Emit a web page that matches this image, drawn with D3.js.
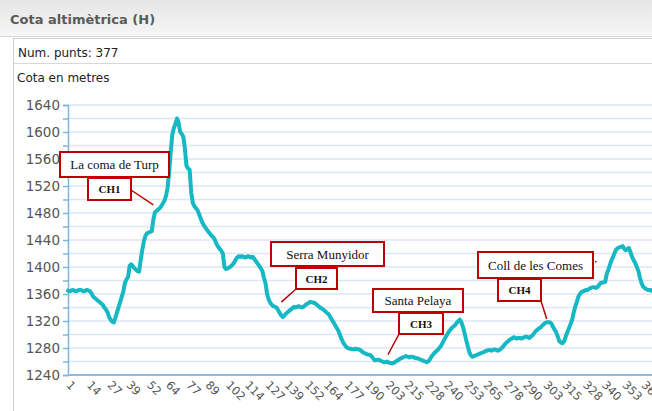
<!DOCTYPE html>
<html>
<head>
<meta charset="utf-8">
<script src="https://cdn.jsdelivr.net/npm/d3@7"></script>
<style>
  html, body { margin: 0; padding: 0; background: #ffffff; }
  svg { display: block; }
</style>
</head>
<body>
<script>
// ---- data ----
const title = "Cota altimètrica (H)";
const pointsLabel = "Num. punts: 377";
const axisTitle = "Cota en metres";

const elevation = [
  1365,1364,1365,1366,1365,1364,1365,1366,1366,1365,
  1364,1365,1366,1365,1364,1360,1356,1354,1352,1350,
  1348,1346,1344,1340,1337,1333,1326,1322,1319,1318,
  1325,1333,1340,1348,1356,1363,1376,1382,1385,1402,
  1404,1401,1398,1396,1394,1393,1410,1425,1438,1446,
  1450,1451,1452,1453,1470,1481,1483,1485,1487,1490,
  1494,1498,1505,1517,1540,1570,1596,1606,1612,1620,
  1614,1600,1597,1593,1575,1550,1546,1544,1510,1495,
  1490,1487,1484,1478,1472,1466,1462,1458,1455,1452,
  1449,1446,1444,1440,1434,1430,1427,1424,1420,1400,
  1397,1398,1399,1401,1403,1406,1410,1414,1416,1415,
  1416,1415,1414,1415,1416,1415,1414,1415,1412,1408,
  1405,1402,1398,1394,1384,1376,1360,1352,1347,1344,
  1342,1341,1340,1336,1332,1328,1326,1328,1331,1333,
  1335,1337,1339,1341,1340,1341,1342,1341,1340,1341,
  1343,1345,1346,1348,1348,1347,1347,1345,1343,1341,
  1339,1338,1336,1334,1332,1330,1326,1322,1318,1314,
  1310,1306,1300,1294,1289,1285,1282,1280,1279,1279,
  1278,1278,1279,1278,1278,1277,1275,1273,1272,1271,
  1270,1270,1268,1265,1262,1262,1263,1262,1261,1260,
  1259,1259,1260,1258,1258,1257,1258,1259,1261,1262,
  1264,1265,1266,1267,1268,1267,1266,1267,1267,1266,
  1265,1265,1264,1263,1262,1261,1260,1259,1260,1263,
  1267,1270,1273,1275,1277,1280,1283,1287,1292,1296,
  1300,1304,1307,1310,1312,1314,1317,1320,1322,1318,
  1311,1302,1292,1283,1274,1269,1267,1268,1269,1270,
  1271,1272,1273,1274,1275,1276,1277,1277,1276,1277,
  1278,1277,1276,1277,1279,1281,1284,1287,1289,1291,
  1293,1294,1296,1295,1294,1295,1295,1294,1295,1296,
  1297,1296,1295,1297,1299,1302,1305,1307,1309,1310,
  1313,1315,1317,1318,1318,1318,1316,1311,1307,1303,
  1297,1290,1288,1287,1290,1297,1303,1309,1315,1321,
  1332,1341,1348,1356,1360,1363,1364,1365,1366,1366,
  1368,1369,1370,1370,1369,1370,1373,1376,1377,1377,
  1378,1390,1396,1403,1410,1415,1421,1426,1428,1429,
  1430,1431,1427,1425,1427,1428,1422,1415,1410,1406,
  1400,1394,1384,1376,1371,1369,1367,1366,1366,1365,
  1366,1365,1366,1365,1364,1365,1365
];

const xTickLabels = [1,14,27,39,52,64,77,89,102,114,127,139,152,164,177,190,203,215,228,240,253,265,278,290,303,315,328,340,353,365];
const yTickLabels = [1240,1280,1320,1360,1400,1440,1480,1520,1560,1600,1640];
const yGridValues = [1240,1260,1280,1300,1320,1340,1360,1380,1400,1420,1440,1460,1480,1500,1520,1540,1560,1580,1600,1620,1640];

const annotNames = ["La coma de Turp","Serra Munyidor","Santa Pelaya","Coll de les Comes"];
const annotCodes = ["CH1","CH2","CH3","CH4"];
const annotIndex = [55, 136, 203.5, 304];
const annotValue = [1492, 1348, 1270, 1323];

// ---- layout ----
const W = 652, H = 411;
const svg = d3.select("body").append("svg").attr("width", W).attr("height", H);

const defs = svg.append("defs");
const grad = defs.append("linearGradient").attr("id","hdr").attr("x1",0).attr("y1",0).attr("x2",0).attr("y2",1);
grad.append("stop").attr("offset","0%").attr("stop-color","#e6e6e6");
grad.append("stop").attr("offset","100%").attr("stop-color","#f6f6f6");

// header
svg.append("rect").attr("x",0).attr("y",0).attr("width",W).attr("height",36).attr("fill","url(#hdr)");
svg.append("line").attr("x1",0).attr("x2",W).attr("y1",36.5).attr("y2",36.5).attr("stroke","#d6d6d6");
svg.append("text").attr("x",10).attr("y",24).text(title)
  .attr("font-family","DejaVu Sans, Verdana, sans-serif").attr("font-weight","bold")
  .attr("font-size","13px").attr("fill","#5a5a5a");

// frame
svg.append("rect").attr("x",13.5).attr("y",38.5).attr("width",W).attr("height",H).attr("fill","#fff").attr("stroke","#cfcfcf");
svg.append("line").attr("x1",14).attr("x2",W).attr("y1",63.5).attr("y2",63.5).attr("stroke","#d8d8d8");
svg.append("text").attr("x",18).attr("y",57).text(pointsLabel)
  .attr("font-family","DejaVu Sans, Verdana, sans-serif").attr("font-size","12px").attr("fill","#222");
svg.append("text").attr("x",17).attr("y",82).text(axisTitle)
  .attr("font-family","DejaVu Sans, Verdana, sans-serif").attr("font-size","12px").attr("fill","#222");

// scales
const x0 = 68, pxPerPoint = 1.58;
const x = d3.scaleLinear().domain([1, elevation.length]).range([x0, x0 + (elevation.length - 1) * pxPerPoint]);
const y = d3.scaleLinear().domain([1240, 1640]).range([375, 105]);

// grid
svg.selectAll("line.grid").data(yGridValues.filter(v => v > 1240)).enter().append("line")
  .attr("class","grid")
  .attr("x1", x0).attr("x2", W).attr("y1", d => y(d)).attr("y2", d => y(d))
  .attr("stroke", "#dde6f4").attr("stroke-width", 1.5);

// y axis
const yAxis = d3.axisLeft(y).tickValues(yGridValues).tickSize(5)
  .tickFormat(d => yTickLabels.includes(d) ? d : "");
const gy = svg.append("g").attr("transform", `translate(${x0},0)`).call(yAxis);
gy.select(".domain").attr("stroke", "#7db6dc").attr("stroke-width", 1.5);
gy.selectAll(".tick line").attr("stroke", "#7db6dc").attr("stroke-width", 1.5);
gy.selectAll(".tick text").attr("font-family","DejaVu Sans, Verdana, sans-serif")
  .attr("font-size","13.5px").attr("fill","#555").attr("x",-8);

// x axis
const xAxis = d3.axisBottom(x).tickValues(xTickLabels).tickSize(0).tickFormat(d => d);
const gx = svg.append("g").attr("transform", `translate(0,375)`).call(xAxis);
gx.select(".domain").attr("stroke", "#8dbbe0").attr("stroke-width", 2).attr("d", `M${x0},0H${W}`);
gx.selectAll(".tick text")
  .attr("font-family","DejaVu Sans, Verdana, sans-serif").attr("font-size","11.5px").attr("fill","#555")
  .attr("text-anchor","start").attr("dy","0.35em").attr("y",0)
  .attr("transform","translate(0,8) rotate(45)");

// line
const line = d3.line().x((d, i) => x(i + 1)).y(d => y(d));
svg.append("path").datum(elevation).attr("d", line)
  .attr("fill","none").attr("stroke","#16b8c4").attr("stroke-width",4)
  .attr("stroke-linejoin","round").attr("stroke-linecap","round");

// annotations
const layout = [
  {nx: 60,  ny: 152, nw: 109, nh: 25, cx: 88,  cy: 178, cw: 43, ch: 22, lx: 131, ly: 190},
  {nx: 271, ny: 242, nw: 113, nh: 24, cx: 296, cy: 268, cw: 41, ch: 21, lx: 296, ly: 289},
  {nx: 373, ny: 289, nw: 90,  nh: 23, cx: 399, cy: 313, cw: 44, ch: 21, lx: 399, ly: 334},
  {nx: 478, ny: 252, nw: 115, nh: 26, cx: 498, cy: 279, cw: 43, ch: 22, lx: 541, ly: 301}
];
const red = "#c00000";
annotNames.forEach((name, k) => {
  const L = layout[k];
  const g = svg.append("g");
  g.append("line").attr("x1", L.lx).attr("y1", L.ly)
    .attr("x2", x(annotIndex[k])).attr("y2", y(annotValue[k]))
    .attr("stroke", red).attr("stroke-width", 1.5);
  g.append("rect").attr("x", L.nx).attr("y", L.ny).attr("width", L.nw).attr("height", L.nh)
    .attr("fill","#fff").attr("stroke", red).attr("stroke-width", 2);
  g.append("text").attr("x", L.nx + L.nw/2).attr("y", L.ny + L.nh/2 + 4.5).attr("text-anchor","middle")
    .attr("font-family","Liberation Serif, Times New Roman, serif").attr("font-size","13px").attr("fill","#111")
    .text(name);
  g.append("rect").attr("x", L.cx).attr("y", L.cy).attr("width", L.cw).attr("height", L.ch)
    .attr("fill","#fff").attr("stroke", red).attr("stroke-width", 2);
  g.append("text").attr("x", L.cx + L.cw/2).attr("y", L.cy + L.ch/2 + 4).attr("text-anchor","middle")
    .attr("font-family","Liberation Serif, Times New Roman, serif").attr("font-weight","bold")
    .attr("font-size","11px").attr("fill","#111")
    .text(annotCodes[k]);
});
svg.append("rect").attr("x", 595).attr("y", 261).attr("width", 1.5).attr("height", 1.5).attr("fill", red);
</script>
</body>
</html>
